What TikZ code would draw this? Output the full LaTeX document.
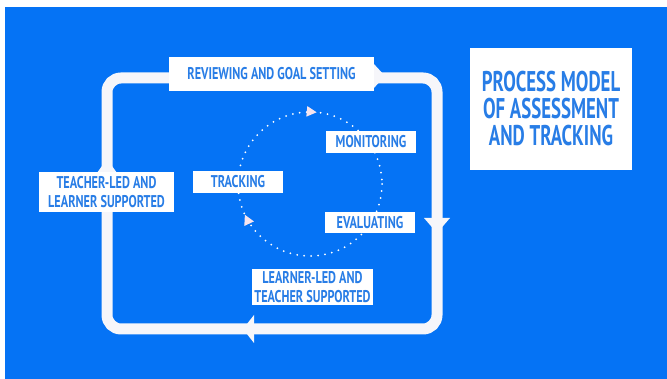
\documentclass[tikz,border=0pt]{standalone}
\usepackage{fontspec}
\newfontfamily\labelfont[FakeStretch=0.72]{PT Sans}
\newfontfamily\titlefont[FakeStretch=0.66]{PT Sans}
\usetikzlibrary{arrows.meta,decorations.markings}
\definecolor{bgblue}{RGB}{5,115,245}
\definecolor{txtblue}{RGB}{40,125,230}
\definecolor{loopwhite}{RGB}{246,246,250}
\definecolor{tippink}{RGB}{246,228,238}

\begin{document}
\begin{tikzpicture}[x=1pt,y=-1pt]
% Styles
\tikzstyle{label box}=[fill=white, text=txtblue, align=center, inner sep=0pt,
  font=\labelfont\bfseries\fontsize{17}{18.5}\selectfont]
\tikzstyle{title box}=[label box, font=\titlefont\bfseries\fontsize{28.5}{27}\selectfont]
\tikzstyle{loop line}=[draw=loopwhite, line width=11pt, rounded corners=14pt]
\tikzstyle{loop tip}=[fill=loopwhite]
\tikzstyle{dot line}=[draw=white, line width=2pt, line cap=round, dash pattern=on 0pt off 7pt]

% background
\useasboundingbox (0,0) rectangle (667,379);
\fill[white] (0,0) rectangle (667,379);
\fill[bgblue] (5,7) rectangle (667,379);

% outer loop
\draw[loop line] (107,78) rectangle (437,329);
\fill[loop tip] (373,63) -- (385,76) -- (373,89) -- cycle;
\fill[loop tip] (424,218) -- (450,218) -- (437,233) -- cycle;
\fill[loop tip] (254,315) -- (254,343) -- (243,329) -- cycle;
\fill[loop tip] (97,173) -- (117,173) -- (107,159) -- cycle;

% inner cycle
\coordinate (hub) at (310,184);
\draw[dot line, postaction={decorate, decoration={markings,
  mark=at position 0.095 with {\arrow[tippink]{Triangle[length=10pt,width=10pt]}},
  mark=at position 0.43 with {\arrow[tippink]{Triangle[length=10pt,width=10pt]}},
  mark=at position 0.765 with {\arrow[tippink]{Triangle[length=10pt,width=10pt]}}}}]
  (hub) circle (72);

% the labels
\node[label box, minimum width=205pt, minimum height=34pt] (review) at (271.5,74) {REVIEWING AND GOAL SETTING};
\node[label box, minimum width=90pt, minimum height=22pt] (monitor) at (371,142) {MONITORING};
\node[label box, minimum width=90pt, minimum height=22pt] (track) at (238,182) {TRACKING};
\node[label box, minimum width=90pt, minimum height=21pt] (evaluate) at (370,222.5) {EVALUATING};
\node[label box, minimum width=135pt, minimum height=40pt] (teacherled) at (106.5,192) {TEACHER-LED AND\\LEARNER SUPPORTED};
\node[label box, minimum width=121pt, minimum height=36pt] (learnerled) at (312.5,287) {LEARNER-LED AND\\TEACHER SUPPORTED};

\node[title box, minimum width=162pt, minimum height=122pt] (title) at (551,109) {PROCESS MODEL\\OF ASSESSMENT\\AND TRACKING};

\end{tikzpicture}
\end{document}
